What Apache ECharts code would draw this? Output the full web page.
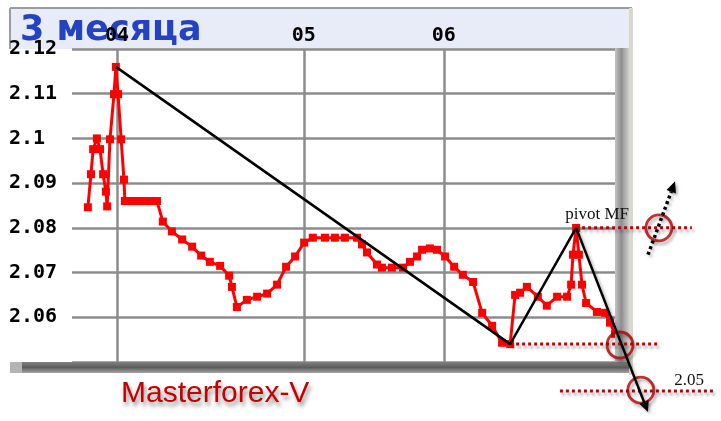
<!DOCTYPE html>
<html>
<head>
<meta charset="utf-8">
<script src="https://cdn.jsdelivr.net/npm/echarts@6/dist/echarts.min.js"></script>
<style>
html,body{margin:0;padding:0;background:#fff;}
#chart{width:721px;height:421px;}
</style>
</head>
<body>
<div id="chart"></div>
<script>
// ---- data ----
const dayIdx = [5.6, 6.6, 7.3, 8.5, 9.5, 10.5, 11.4, 11.8, 12.7, 14.0, 14.6, 15.3, 16.3, 17.2, 17.5, 19.1, 20.7, 22.4, 24.0, 25.6, 27.8, 29.7, 32.6, 35.9, 39.1, 42.0, 44.8, 48.1, 51.0, 51.9, 53.5, 56.7, 60.0, 63.2, 66.4, 69.3, 72.2, 75.1, 77.9, 81.8, 85.0, 88.2, 92.1, 93.7, 95.3, 98.5, 100.1, 103.3, 106.9, 109.1, 111.4, 113.0, 115.5, 117.8, 120.4, 123.3, 126.1, 129.4, 132.3, 135.5, 138.7, 141.3, 142.9, 144.5, 146.7, 150.2, 153.1, 156.4, 159.6, 160.9, 161.5, 162.5, 163.4, 164.4, 165.7, 169.2, 171.8, 173.4, 175.0];
const rate = [2.0846, 2.0920, 2.0976, 2.1000, 2.0976, 2.0920, 2.0881, 2.0848, 2.0998, 2.1099, 2.1160, 2.1099, 2.0998, 2.0908, 2.0860, 2.0860, 2.0860, 2.0860, 2.0860, 2.0860, 2.0860, 2.0814, 2.0792, 2.0774, 2.0758, 2.0738, 2.0724, 2.0715, 2.0693, 2.0668, 2.0623, 2.0639, 2.0646, 2.0653, 2.0673, 2.0713, 2.0736, 2.0767, 2.0778, 2.0778, 2.0778, 2.0778, 2.0778, 2.0763, 2.0745, 2.0718, 2.0711, 2.0711, 2.0711, 2.0724, 2.0736, 2.0751, 2.0754, 2.0751, 2.0736, 2.0713, 2.0695, 2.0679, 2.0610, 2.0581, 2.0543, 2.0540, 2.0650, 2.0655, 2.0668, 2.0646, 2.0626, 2.0646, 2.0646, 2.0673, 2.0740, 2.0800, 2.0740, 2.0673, 2.0632, 2.0612, 2.0610, 2.0588, 2.0563];

const monthPos = [15, 75, 120];
const monthLabels = ['04', '05', '06'];

// swing points of the hand-drawn zigzag (peak, low, pivot)
const swingT = [14.6, 141.3, 162.5];
const swingV = [2.116, 2.054, 2.080];

// arrows
const arrowFromT = [162.5, 185.6];
const arrowFromV = [2.080, 2.074];
const arrowToT = [185.6, 194.3];
const arrowToV = [2.0388, 2.0904];
const arrowDotted = [0, 1];

// red dotted level lines
const levelFromT = [162.5, 141.3, 157.3];
const levelToT = [199.7, 189.4, 206.5];
const levelV = [2.080, 2.054, 2.0435];

// red circles
const circleT = [189.1, 176.6, 183.3];
const circleV = [2.080, 2.0538, 2.0437];

// annotation texts
const noteText = ['pivot MF', '2.05'];
const noteT = [162.5, 206.5];
const noteV = [2.080, 2.0435];
const noteDx = [21, -24];
const noteDy = [-13, -11];

const chart = echarts.init(document.getElementById('chart'), null, {renderer: 'canvas'});

const shadowStyle = {shadowColor: 'rgba(0,0,0,0.35)', shadowBlur: 3, shadowOffsetX: 2, shadowOffsetY: 3};

const series = [];

series.push({
  type: 'line',
  z: 3,
  data: dayIdx.map((t, i) => [t, rate[i]]),
  symbol: 'rect',
  symbolSize: 8,
  itemStyle: {color: '#ff0000'},
  lineStyle: {color: '#ff0000', width: 3},
  animation: false,
  silent: true,
  markLine: {
    z: 2,
    silent: true,
    symbol: 'none',
    animation: false,
    lineStyle: {color: '#8c8c8c', width: 2.5, type: 'solid'},
    label: {
      position: 'end', distance: 3,
      formatter: p => p.name,
      fontFamily: 'DejaVu Sans Mono', fontWeight: 'bold', fontSize: 20, color: '#000'
    },
    emphasis: {disabled: true},
    data: monthPos.map((x, i) => ({xAxis: x, name: monthLabels[i]}))
  }
});

series.push({
  type: 'line',
  z: 8,
  clip: false,
  data: swingT.map((t, i) => [t, swingV[i]]),
  symbol: 'none',
  lineStyle: {color: '#000', width: 2.5},
  animation: false,
  silent: true
});

// red dotted level lines
series.push({
  type: 'custom',
  z: 6,
  clip: false,
  animation: false,
  silent: true,
  data: levelV.map((v, i) => [levelFromT[i], v, levelToT[i]]),
  encode: {x: [0, 2], y: 1},
  renderItem: function (params, api) {
    const p1 = api.coord([api.value(0), api.value(1)]);
    const p2 = api.coord([api.value(2), api.value(1)]);
    return {
      type: 'line',
      shape: {x1: p1[0], y1: p1[1], x2: p2[0], y2: p2[1]},
      style: Object.assign({stroke: '#c00000', lineWidth: 3, lineDash: [3, 3]}, shadowStyle)
    };
  }
});

series.push({
  type: 'scatter',
  z: 9,
  clip: false,
  data: circleT.map((t, i) => [t, circleV[i]]),
  symbol: 'circle',
  symbolSize: 26,
  itemStyle: Object.assign({color: 'rgba(0,0,0,0)', borderColor: '#b00000', borderWidth: 2.8}, shadowStyle),
  animation: false,
  silent: true
});

series.push({
  type: 'custom',
  z: 10,
  clip: false,
  animation: false,
  silent: true,
  data: arrowFromT.map((t, i) => [t, arrowFromV[i], arrowToT[i], arrowToV[i], arrowDotted[i]]),
  encode: {x: [0, 2], y: [1, 3]},
  renderItem: function (params, api) {
    const p1 = api.coord([api.value(0), api.value(1)]);
    const p2 = api.coord([api.value(2), api.value(3)]);
    const dotted = api.value(4) === 1;
    const dx = p2[0] - p1[0], dy = p2[1] - p1[1];
    const len = Math.sqrt(dx * dx + dy * dy);
    const ux = dx / len, uy = dy / len;
    const hl = 11, hw = 5;
    const bx = p2[0] - ux * hl, by = p2[1] - uy * hl;
    const sh = {shadowColor: 'rgba(0,0,0,0.3)', shadowBlur: 3, shadowOffsetX: 2, shadowOffsetY: 2};
    return {
      type: 'group',
      children: [
        {type: 'line', shape: {x1: p1[0], y1: p1[1], x2: bx, y2: by},
         style: Object.assign({stroke: '#000', lineWidth: dotted ? 3.5 : 2.5, lineDash: dotted ? [3, 3] : null}, sh)},
        {type: 'polygon', shape: {points: [[p2[0], p2[1]], [bx - uy * hw, by + ux * hw], [bx + uy * hw, by - ux * hw]]},
         style: Object.assign({fill: '#000'}, sh)}
      ]
    };
  }
});

series.push({
  type: 'custom',
  z: 11,
  clip: false,
  animation: false,
  silent: true,
  data: noteT.map((t, i) => [t, noteV[i], i]),
  encode: {x: 0, y: 1},
  renderItem: function (params, api) {
    const i = api.value(2);
    const p = api.coord([api.value(0), api.value(1)]);
    return {
      type: 'text',
      x: p[0] + noteDx[i], y: p[1] + noteDy[i],
      style: {text: noteText[i], font: '17px "Liberation Serif"', fill: '#111', align: 'center', verticalAlign: 'middle',
              shadowColor: 'rgba(0,0,0,0.25)', shadowBlur: 2, shadowOffsetX: 1, shadowOffsetY: 2}
    };
  }
});

const option = {
  animation: false,
  backgroundColor: '#ffffff',
  title: [
    {text: '3 месяца', left: 15, top: 8, z: 0,
     textStyle: {fontFamily: 'DejaVu Sans', fontWeight: 'bold', fontSize: 35, color: '#2343c4'}},
    {text: 'Masterforex-V', left: 116, top: 374, z: 0,
     textStyle: {fontFamily: 'Liberation Sans', fontWeight: 'normal', fontSize: 30, color: '#c40000',
                 textShadowColor: 'rgba(0,0,0,0.45)', textShadowBlur: 4, textShadowOffsetX: 2, textShadowOffsetY: 4}}
  ],
  graphic: {elements: [
    {type: 'rect', z: -1, shape: {x: 10, y: 8, width: 622, height: 41}, style: {fill: '#e8ecf8', stroke: null}},
    {type: 'line', z: -1, shape: {x1: 10, y1: 8, x2: 632, y2: 8}, style: {stroke: '#9c9c9c', lineWidth: 2}},
    {type: 'line', z: -1, shape: {x1: 10, y1: 8, x2: 10, y2: 49}, style: {stroke: '#9c9c9c', lineWidth: 2}},
    {type: 'rect', z: -1, shape: {x: 629, y: 8, width: 4, height: 367}, style: {fill: '#d8d8cc'}},
    {type: 'rect', z: 5, shape: {x: 615, y: 48, width: 14, height: 325},
     style: {fill: new echarts.graphic.LinearGradient(0, 0, 1, 0, [
       {offset: 0, color: '#c4c4c4'}, {offset: 0.45, color: '#8e8e8e'}, {offset: 1, color: '#cfcfcf'}])}},
    {type: 'rect', z: 5, shape: {x: 10, y: 362, width: 619, height: 11},
     style: {fill: new echarts.graphic.LinearGradient(0, 0, 0, 1, [
       {offset: 0, color: '#808080'}, {offset: 0.5, color: '#5c5c5c'}, {offset: 1, color: '#a4a4a4'}])}},
    {type: 'rect', z: 5, shape: {x: 10, y: 362, width: 12, height: 11}, style: {fill: '#b4b4b4'}}
  ]},
  grid: {left: 72, right: 106, top: 49, bottom: 59, containLabel: false},
  xAxis: {
    type: 'value', min: 0.5, max: 175,
    axisLine: {show: false}, axisTick: {show: false}, axisLabel: {show: false}, splitLine: {show: false}
  },
  yAxis: {
    type: 'value', min: 2.05, max: 2.12, interval: 0.01,
    axisLine: {show: false}, axisTick: {show: false},
    splitLine: {show: true, lineStyle: {color: '#8c8c8c', width: 2.5}},
    axisLabel: {
      align: 'left', margin: 63,
      fontFamily: 'DejaVu Sans Mono', fontWeight: 'bold', fontSize: 20, color: '#000',
      formatter: v => (v < 2.0505 ? '' : String(+v.toFixed(2)))
    }
  },
  series: series
};

chart.setOption(option);
</script>
</body>
</html>
